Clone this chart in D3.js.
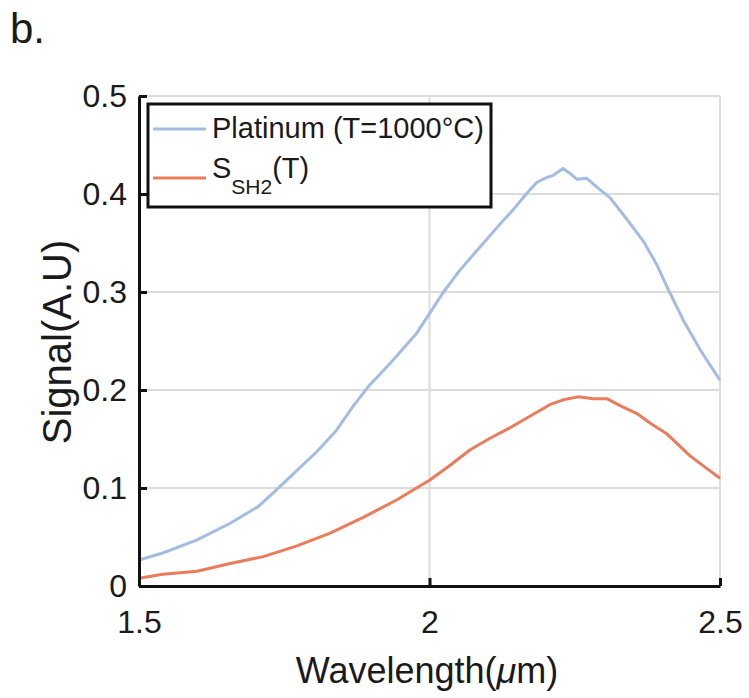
<!DOCTYPE html>
<html><head><meta charset="utf-8">
<script src="https://cdn.jsdelivr.net/npm/d3@7"></script>
<style>body{margin:0;background:#fff}svg{display:block}text{font-family:"Liberation Sans",Arial,sans-serif;fill:#1a1a1a}</style>
</head><body>
<script>
const platWl = [1.5,1.541,1.6,1.657,1.705,1.731,1.772,1.806,1.84,1.868,1.894,1.932,1.978,2.0,2.023,2.052,2.087,2.121,2.144,2.168,2.185,2.202,2.213,2.23,2.242,2.254,2.271,2.288,2.311,2.34,2.368,2.392,2.409,2.437,2.466,2.5];
const platVal = [0.0265,0.0337,0.047,0.064,0.081,0.095,0.118,0.137,0.159,0.183,0.203,0.227,0.258,0.278,0.299,0.322,0.346,0.369,0.384,0.401,0.412,0.417,0.419,0.426,0.421,0.415,0.416,0.407,0.396,0.374,0.352,0.327,0.305,0.271,0.241,0.210];
const sshWl = [1.5,1.541,1.6,1.657,1.714,1.772,1.829,1.886,1.944,2.0,2.035,2.07,2.105,2.14,2.175,2.207,2.23,2.256,2.282,2.306,2.328,2.357,2.38,2.409,2.448,2.477,2.5];
const sshVal = [0.008,0.012,0.015,0.023,0.030,0.041,0.054,0.070,0.088,0.108,0.123,0.139,0.151,0.162,0.174,0.185,0.190,0.193,0.191,0.191,0.184,0.176,0.166,0.155,0.133,0.120,0.110];
const xTicks = [1.5,2,2.5];
const yTicks = [0,0.1,0.2,0.3,0.4,0.5];
const xTickLabels = ["1.5","2","2.5"];
const yTickLabels = ["0","0.1","0.2","0.3","0.4","0.5"];
const seriesNames = ["Platinum (T=1000°C)","S","SH2","(T)"];
const colors = ["#a3bde2","#ea7c5c"];

const W=749,H=698;
const L=139,R=720,T=96,B=586;
const svg=d3.select("body").append("svg").attr("width",W).attr("height",H);
svg.append("rect").attr("width",W).attr("height",H).attr("fill","#fff");
const x=d3.scaleLinear().domain([1.5,2.5]).range([L,R]);
const y=d3.scaleLinear().domain([0,0.5]).range([B,T]);

// grid
const g=svg.append("g");
g.selectAll(".hg").data(yTicks.filter(d=>d>0)).enter().append("line")
 .attr("x1",L).attr("x2",R).attr("y1",d=>y(d)).attr("y2",d=>y(d))
 .attr("stroke","#dcdcdc").attr("stroke-width",2);
g.selectAll(".vg").data(xTicks.filter(d=>d>1.5)).enter().append("line")
 .attr("y1",T).attr("y2",B).attr("x1",d=>x(d)).attr("x2",d=>x(d))
 .attr("stroke","#dcdcdc").attr("stroke-width",2);

// lines
const line=d3.line().x(d=>x(d[0])).y(d=>y(d[1]));
svg.append("path").datum(platWl.map((w,i)=>[w,platVal[i]])).attr("d",line)
 .attr("fill","none").attr("stroke",colors[0]).attr("stroke-width",3).attr("stroke-linejoin","round");
svg.append("path").datum(sshWl.map((w,i)=>[w,sshVal[i]])).attr("d",line)
 .attr("fill","none").attr("stroke",colors[1]).attr("stroke-width",3).attr("stroke-linejoin","round");

// axes
const yAxis=d3.axisLeft(y).tickValues(yTicks).tickSize(-8).tickFormat((d,i)=>yTickLabels[i]).tickSizeOuter(0);
const ya=svg.append("g").attr("transform",`translate(${L},0)`).call(yAxis);
ya.select(".domain").attr("stroke","#111").attr("stroke-width",3);
ya.selectAll(".tick line").attr("stroke","#111").attr("stroke-width",3);
ya.selectAll(".tick text").attr("x",-12).attr("font-size",32).attr("fill","#1a1a1a").attr("font-family","Liberation Sans, Arial");

const xAxis=d3.axisBottom(x).tickValues(xTicks).tickSize(-8).tickFormat((d,i)=>xTickLabels[i]).tickSizeOuter(0);
const xa=svg.append("g").attr("transform",`translate(0,${B})`).call(xAxis);
xa.select(".domain").attr("stroke","#111").attr("stroke-width",3);
xa.selectAll(".tick line").attr("stroke","#111").attr("stroke-width",3);
xa.selectAll(".tick text").attr("y",24).attr("dy","0.71em").attr("font-size",32).attr("fill","#1a1a1a").attr("font-family","Liberation Sans, Arial");

// labels
svg.append("text").attr("x",427).attr("y",683).attr("text-anchor","middle").attr("font-size",36)
 .html('Wavelength(<tspan font-style="italic">μ</tspan>m)');
svg.append("text").attr("transform","translate(71,342) rotate(-90)").attr("text-anchor","middle").attr("font-size",40).text("Signal(A.U)");
svg.append("text").attr("x",10).attr("y",43).attr("font-size",42).text("b.");

// legend
const lg=svg.append("g");
lg.append("rect").attr("x",148).attr("y",104).attr("width",343).attr("height",103)
 .attr("fill","#fff").attr("stroke","#111").attr("stroke-width",3);
lg.append("line").attr("x1",153).attr("x2",206).attr("y1",129).attr("y2",129).attr("stroke",colors[0]).attr("stroke-width",3);
lg.append("line").attr("x1",153).attr("x2",206).attr("y1",178).attr("y2",178).attr("stroke",colors[1]).attr("stroke-width",3);
lg.append("text").attr("x",212).attr("y",138).attr("font-size",29).text(seriesNames[0]);
const t2=lg.append("text").attr("x",212).attr("y",178).attr("font-size",29);
t2.append("tspan").text(seriesNames[1]);
t2.append("tspan").attr("font-size",21).attr("dy",16).text(seriesNames[2]);
t2.append("tspan").attr("dy",-16).text(seriesNames[3]);
</script>
</body></html>
